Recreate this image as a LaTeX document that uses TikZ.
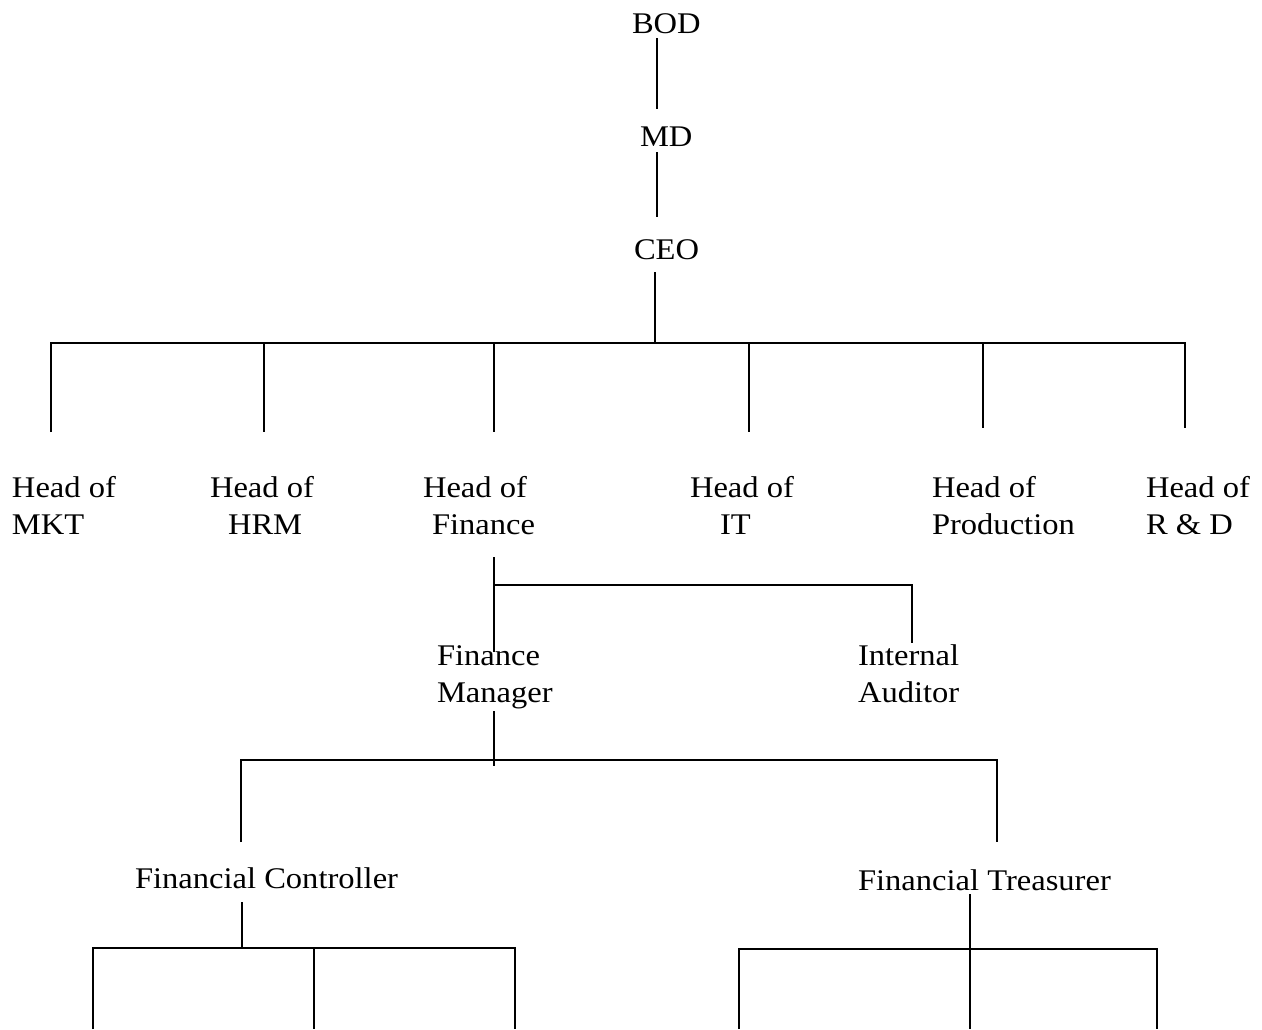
\documentclass[tikz,border=0pt]{standalone}
\usepackage{fontspec}
\setmainfont{Liberation Serif}[FakeStretch=1.085]
\begin{document}
\begin{tikzpicture}[x=1pt,y=-1pt,
  lbl/.style={inner sep=0pt, outer sep=0pt, anchor=base west, align=left, font=\fontsize{30}{37}\selectfont},
  conn/.style={line width=1.8pt, black}]
\useasboundingbox[fill=white] (0,0) rectangle (1262,1029);
% labels (multi-line nodes anchored at the baseline of their last line)
\node[lbl] (bod) at (632,33) {BOD};
\node[lbl] (md) at (640,146) {MD};
\node[lbl] (ceo) at (634,259) {CEO};
\node[lbl] (mkt) at (12,534) {Head of\\MKT};
\node[lbl] (hrm) at (210,534) {Head of\\\hspace*{18pt}HRM};
\node[lbl] (fin) at (423,534) {Head of\\\hspace*{9pt}Finance};
\node[lbl] (it) at (690,534) {Head of\\\hspace*{30pt}IT};
\node[lbl] (prod) at (932,534) {Head of\\Production};
\node[lbl] (rd) at (1146,534) {Head of\\R \& D};
\node[lbl] (fm) at (437,702) {Finance\\Manager};
\node[lbl] (ia) at (858,702) {Internal\\Auditor};
\node[lbl] (fc) at (135,888) {Financial Controller};
\node[lbl] (ft) at (858,890) {Financial Treasurer};
% connector points
\coordinate (bodS) at (657,38);
\coordinate (mdN) at (657,109);
\coordinate (mdS) at (657,152);
\coordinate (ceoN) at (657,217);
\coordinate (ceoS) at (655,272);
\coordinate (ceoBus) at (655,343);
\coordinate (busL) at (51,343);
\coordinate (busR) at (1185,343);
\coordinate (mktN) at (51,432);
\coordinate (hrmT) at (264,343);
\coordinate (hrmN) at (264,432);
\coordinate (finT) at (494,343);
\coordinate (finN) at (494,432);
\coordinate (itT) at (749,343);
\coordinate (itN) at (749,432);
\coordinate (prodT) at (983,343);
\coordinate (prodN) at (983,428);
\coordinate (rdN) at (1185,428);
\coordinate (finS) at (494,557);
\coordinate (finJ) at (494,585);
\coordinate (fmN) at (494,652);
\coordinate (iaJ) at (912,585);
\coordinate (iaN) at (912,643);
\coordinate (fmS) at (494,711);
\coordinate (fmB) at (494,766);
\coordinate (fmBusL) at (241,760);
\coordinate (fmBusR) at (997,760);
\coordinate (fcN) at (241,842);
\coordinate (ftN) at (997,842);
\coordinate (fcS) at (242,902);
\coordinate (fcJ) at (242,948);
\coordinate (fcBusL) at (93,948);
\coordinate (fcBusM) at (314,948);
\coordinate (fcBusR) at (515,948);
\coordinate (fcL1) at (93,1029);
\coordinate (fcL2) at (314,1029);
\coordinate (fcL3) at (515,1029);
\coordinate (ftS) at (970,894);
\coordinate (ftB) at (970,975);
\coordinate (ftBusL) at (739,949);
\coordinate (ftBusM) at (970,949);
\coordinate (ftBusR) at (1157,949);
\coordinate (ftL1) at (739,1029);
\coordinate (ftL2) at (970,1029);
\coordinate (ftL3) at (1157,1029);
% connectors
\draw[conn] (bodS) -- (mdN);
\draw[conn] (mdS) -- (ceoN);
\draw[conn] (ceoS) -- (ceoBus);
\draw[conn] (mktN) -- (busL) -- (busR) -- (rdN);
\draw[conn] (hrmT) -- (hrmN);
\draw[conn] (finT) -- (finN);
\draw[conn] (itT) -- (itN);
\draw[conn] (prodT) -- (prodN);
\draw[conn] (finS) -- (fmN);
\draw[conn] (finJ) -- (iaJ) -- (iaN);
\draw[conn] (fmS) -- (fmB);
\draw[conn] (fcN) -- (fmBusL) -- (fmBusR) -- (ftN);
\draw[conn] (fcS) -- (fcJ);
\draw[conn] (fcL1) -- (fcBusL) -- (fcBusR) -- (fcL3);
\draw[conn] (fcBusM) -- (fcL2);
\draw[conn] (ftS) -- (ftB);
\draw[conn] (ftL1) -- (ftBusL) -- (ftBusR) -- (ftL3);
\draw[conn] (ftBusM) -- (ftL2);
\end{tikzpicture}
\end{document}
